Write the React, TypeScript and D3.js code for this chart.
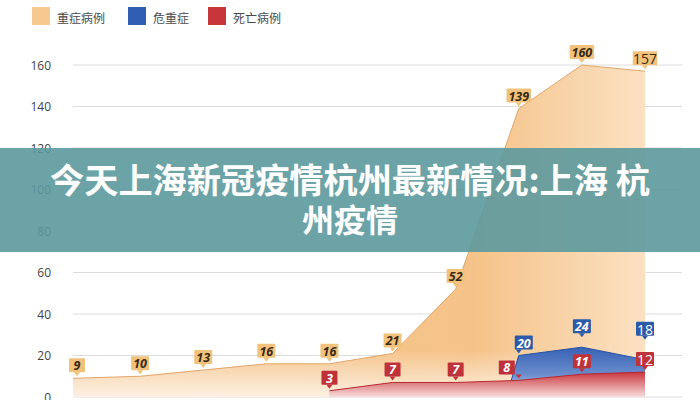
import React, { useLayoutEffect, useRef } from 'react';
import * as d3 from 'd3';

// 重症病例 per day (index = day slot)
const severeIdx = [0, 1, 2, 3, 4, 5, 6, 7, 8, 9];
const severe = [9, 10, 13, 16, 16, 21, 52, 139, 160, 157];
// 危重症, starts from 0 shortly before slot 7
const criticalIdx = [6.8, 7, 8, 9];
const critical = [0, 20, 24, 18];
// 死亡病例
const deathIdx = [4, 5, 6, 7, 8, 9];
const deaths = [3, 7, 7, 8, 11, 12];

const yTicks = [0, 20, 40, 60, 80, 100, 120, 140, 160];
const legendItems = [
  { name: '重症病例', color: '#f5c98f' },
  { name: '危重症', color: '#2f5eb3' },
  { name: '死亡病例', color: '#c8363b' },
];
const titleLines = ['今天上海新冠疫情杭州最新情况:上海 杭', '州疫情'];

const W = 700;
const H = 400;
const plot = { left: 73, right: 682, top: 65, bottom: 397 };

type Pt = { i: number; v: number };
const zip = (is: number[], vs: number[]): Pt[] => is.map((i, k) => ({ i, v: vs[k] }));

const App: React.FC = () => {
  const titleRef = useRef<SVGTextElement | null>(null);

  // squeeze the first title line to the width it has in the picture
  useLayoutEffect(() => {
    const el = titleRef.current;
    if (!el) return;
    const w = el.getComputedTextLength();
    const s = 600 / w;
    el.setAttribute('transform', `translate(350,0) scale(${s},1) translate(-350,0)`);
  }, []);

  const x = d3.scaleLinear().domain([0, 9]).range([77, 645]);
  const y = d3.scaleLinear().domain([0, 160]).range([plot.bottom, plot.top]);

  const area = d3.area<Pt>().x(d => x(d.i)).y0(y(0)).y1(d => y(d.v));
  const line = d3.line<Pt>().x(d => x(d.i)).y(d => y(d.v));

  const sev = zip(severeIdx, severe);
  const crit = zip(criticalIdx, critical);
  const dead = zip(deathIdx, deaths);

  // severe area starts at the plot's left edge
  const sevArea = d3.area<Pt>()
    .x((d, k) => (k === 0 ? plot.left : x(d.i)))
    .y0(y(0)).y1(d => y(d.v));
  const sevLine = d3.line<Pt>()
    .x((d, k) => (k === 0 ? plot.left : x(d.i)))
    .y(d => y(d.v));

  const label = (d: Pt, fill: string, textColor: string, dx: number, dy: number, key: string, last: boolean) => {
    const txt = String(d.v);
    const w = Math.max(16, txt.length * 6.5 + 5);
    const h = 14;
    const px = x(d.i);
    const py = y(d.v) + dy;
    const cx = px + dx;
    const bottom = py - 6;
    return (
      <g key={key}>
        <rect x={cx - w / 2} y={bottom - h} width={w} height={h} fill={fill} rx={1} />
        <path d={`M${px - 3},${bottom} L${px + 3},${bottom} L${px},${bottom + 4} Z`} fill={fill} />
        <text
          x={cx}
          y={bottom - h / 2 + 0.5}
          textAnchor="middle"
          dominantBaseline="central"
          fill={textColor}
          fontFamily="'Open Sans', 'DejaVu Sans', sans-serif"
          fontSize={last ? 14 : 12.5}
          fontWeight={last ? 400 : 700}
          fontStyle={last ? 'normal' : 'italic'}
        >
          {txt}
        </text>
      </g>
    );
  };

  // blue labels sit a bit higher than their points in the picture
  const critDy = (v: number) => (v === 24 ? -8 : v === 18 ? -18 : 0);

  return (
    <svg width={W} height={H} style={{ position: 'fixed', left: 0, top: 0, display: 'block', background: '#fff' }}>
      <defs>
        <linearGradient id="sevH" x1="0" x2="1" y1="0" y2="0">
          <stop offset="0" stopColor="#f6c893" />
          <stop offset="0.7" stopColor="#f5c389" />
          <stop offset="1" stopColor="#fbe1c2" />
        </linearGradient>
        <linearGradient id="fadeBottom" gradientUnits="userSpaceOnUse" x1="0" x2="0" y1="350" y2="397">
          <stop offset="0" stopColor="#fff" stopOpacity="0" />
          <stop offset="1" stopColor="#fff" stopOpacity="0.75" />
        </linearGradient>
        <linearGradient id="critG" gradientUnits="userSpaceOnUse" x1="0" x2="0" y1="340" y2="397">
          <stop offset="0" stopColor="#2a57ad" />
          <stop offset="0.6" stopColor="#6a8ccc" />
          <stop offset="1" stopColor="#d6dff0" />
        </linearGradient>
        <linearGradient id="deadG" gradientUnits="userSpaceOnUse" x1="0" x2="0" y1="372" y2="397">
          <stop offset="0" stopColor="#c9363b" />
          <stop offset="1" stopColor="#f7dcdc" />
        </linearGradient>
      </defs>

      {/* legend */}
      {legendItems.map((it, k) => {
        const lx = [32, 128, 208][k];
        return (
          <g key={it.name}>
            <rect x={lx} y={7} width={18} height={18} fill={it.color} />
            <text x={lx + 25} y={17} dominantBaseline="central" fontSize={12} fill="#4a4a4a"
              fontFamily="'Noto Sans CJK SC', sans-serif">{it.name}</text>
          </g>
        );
      })}

      {/* grid + y ticks */}
      {yTicks.map(t => (
        <g key={t}>
          <line x1={plot.left} x2={plot.right} y1={y(t)} y2={y(t)} stroke="#dcdcdc" strokeWidth={1} />
          <text x={51} y={y(t)} textAnchor="end" dominantBaseline="central" fontSize={12} fill="#444"
            fontFamily="'Open Sans', sans-serif">{t}</text>
        </g>
      ))}

      {/* severe area */}
      <path d={sevArea(sev) ?? ''} fill="url(#sevH)" />
      <path d={sevArea(sev) ?? ''} fill="url(#fadeBottom)" />
      <path d={sevLine(sev) ?? ''} fill="none" stroke="#e3a56a" strokeWidth={1} />

      {/* critical area */}
      <path d={area(crit) ?? ''} fill="url(#critG)" />
      <path d={line(crit) ?? ''} fill="none" stroke="#2550a0" strokeWidth={1} />

      {/* deaths area */}
      <path d={area(dead) ?? ''} fill="url(#deadG)" />
      <path d={line(dead) ?? ''} fill="none" stroke="#b8282f" strokeWidth={1} />

      {/* labels */}
      {sev.map((d, k) => label(d, '#f1c27c', '#3a2912', 0, 0, 's' + k, k === sev.length - 1))}
      {crit.filter(d => d.v > 0).map((d, k, arr) =>
        label(d, '#2d5aa8', '#fff', d.i === 7 ? 5 : 0, critDy(d.v), 'c' + k, k === arr.length - 1))}
      {dead.map((d, k) => label(d, '#c0323a', '#fff', d.i === 7 ? -12 : 0, 0, 'd' + k, k === dead.length - 1))}

      {/* title banner */}
      <rect x={0} y={148} width={W} height={104} fill="rgb(92,153,157)" opacity={0.9} />
      <text ref={titleRef} x={350} y={178} textAnchor="middle" dominantBaseline="central" fill="#fff"
        fontFamily="'Noto Sans CJK SC', sans-serif" fontWeight={700} fontSize={34}>{titleLines[0]}</text>
      <text x={350} y={218} textAnchor="middle" dominantBaseline="central" fill="#fff"
        fontFamily="'Noto Sans CJK SC', sans-serif" fontWeight={700} fontSize={32}>{titleLines[1]}</text>
    </svg>
  );
};

export default App;
